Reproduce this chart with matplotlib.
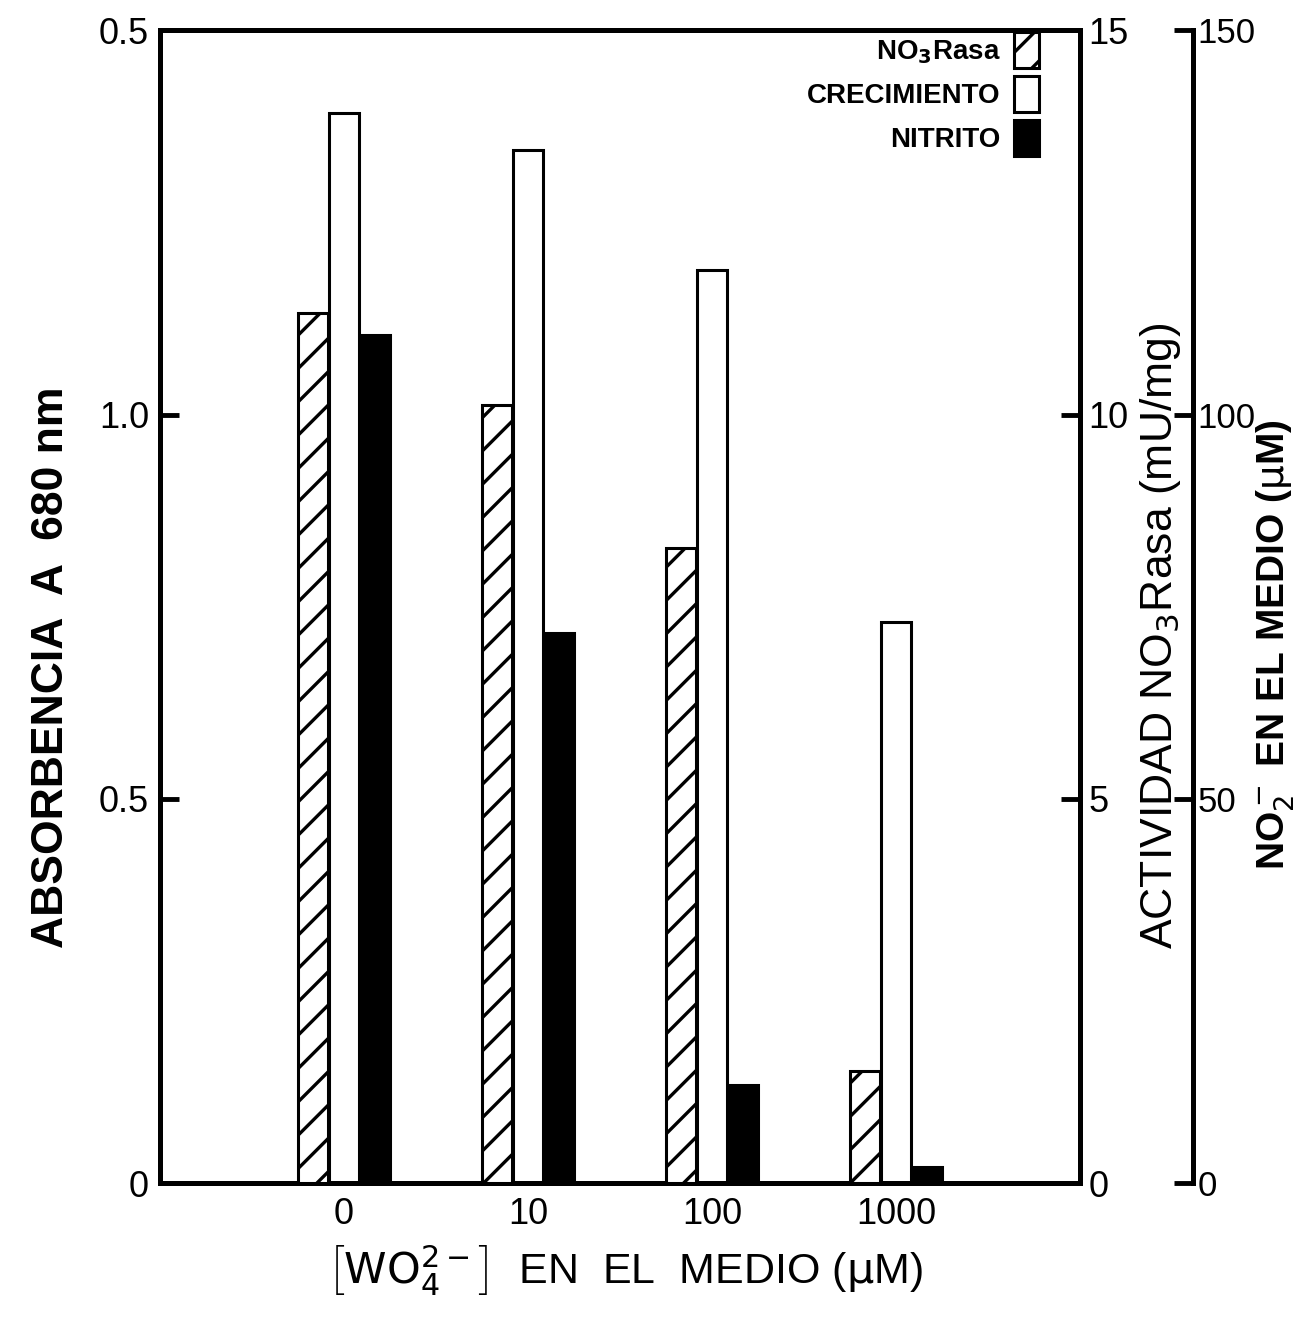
import numpy as np
import matplotlib.pyplot as plt

plt.rcParams['font.family'] = ['Liberation Sans Narrow', 'Liberation Sans', 'DejaVu Sans']
plt.rcParams['mathtext.fontset'] = 'custom'
plt.rcParams['mathtext.rm'] = 'Liberation Sans Narrow'
plt.rcParams['mathtext.it'] = 'Liberation Sans Narrow'
plt.rcParams['mathtext.bf'] = 'Liberation Sans Narrow:bold'
plt.rcParams['hatch.linewidth'] = 2.4

# data
groups = ["0", "10", "100", "1000"]
crecimiento = [1.392, 1.344, 1.188, 0.730]      # absorbancia A680
no3rasa = [11.32, 10.12, 8.26, 1.46]            # mU/mg
nitrito = [110.3, 71.6, 12.7, 2.1]              # uM
left_ticks = [0, 0.5, 1.0, 1.5]
left_labels = ["0", "0.5", "1.0", "0.5"]

fig = plt.figure(figsize=(12.96, 13.18), dpi=100)
ax1 = fig.add_axes([0.1235, 0.1024, 0.7099, 0.8746])
ax2 = ax1.twinx()
ax3 = ax1.twinx()

x = np.arange(len(groups))
w = 0.165
off = 0.168

ax1.bar(x, crecimiento, w, color="white", edgecolor="black", linewidth=2.2, label="CRECIMIENTO")
ax2.bar(x - off, no3rasa, w, color="white", edgecolor="black", linewidth=2.2, hatch="/", label=r"NO$_\mathbf{3}$Rasa")
ax3.bar(x + off, nitrito, w, color="black", edgecolor="black", linewidth=2.2, label="NITRITO")

ax1.set_xlim(-1, 4)
ax1.set_ylim(0, 1.5)
ax2.set_ylim(0, 15)
ax3.set_ylim(0, 150)

for sp in ax1.spines.values():
    sp.set_linewidth(3.6)
for sp in ["top", "left", "bottom"]:
    ax2.spines[sp].set_visible(False)
    ax3.spines[sp].set_visible(False)
ax2.spines["right"].set_linewidth(3.6)
ax3.spines["right"].set_position(("axes", 1.123))
ax3.spines["right"].set_linewidth(3.6)

ax1.set_xticks(x)
ax1.set_xticklabels(groups, fontsize=26)
ax1.tick_params(axis="x", length=0, pad=10)
ax1.set_yticks(left_ticks)
ax1.set_yticklabels(left_labels, fontsize=26)
ax1.tick_params(axis="y", direction="in", length=14, width=3.5, pad=8)

ax2.set_yticks([0, 5, 10, 15])
ax2.tick_params(axis="y", direction="in", length=14, width=3.5, pad=6, labelsize=26)
ax3.set_yticks([0, 50, 100, 150])
ax3.tick_params(axis="y", direction="in", length=14, width=3.5, pad=3, labelsize=25)

ax1.set_ylabel("ABSORBENCIA  A  680 nm", fontsize=32, fontweight="bold")
ax1.yaxis.set_label_coords(-0.096, 0.4475)
ax2.set_ylabel("ACTIVIDAD NO$_3$Rasa (mU/mg)", fontsize=32)
ax2.yaxis.set_label_coords(1.063, 0.475)
ax3.set_ylabel("NO$_2^-$ EN EL MEDIO ($\\mu$M)", fontsize=28, fontweight="bold")
ax3.yaxis.set_label_coords(1.19, 0.467)
ax1.set_xlabel(r"$\left[\mathrm{WO_4^{2-}}\right]$  EN  EL  MEDIO ($\mu$M)", fontsize=31)
ax1.xaxis.set_label_coords(0.505, -0.052)

h2, l2 = ax2.get_legend_handles_labels()
h1, l1 = ax1.get_legend_handles_labels()
h3, l3 = ax3.get_legend_handles_labels()
ax3.legend(h2 + h1 + h3, l2 + l1 + l3, loc="upper right", bbox_to_anchor=(0.974, 1.013),
           markerfirst=False, frameon=False, handlelength=0.9, handleheight=1.6,
           labelspacing=0.3, handletextpad=0.5, borderaxespad=0.2,
           prop={"family": ["Liberation Sans", "DejaVu Sans"], "weight": "bold", "size": 20})

fig.savefig("out.png", dpi=100)
